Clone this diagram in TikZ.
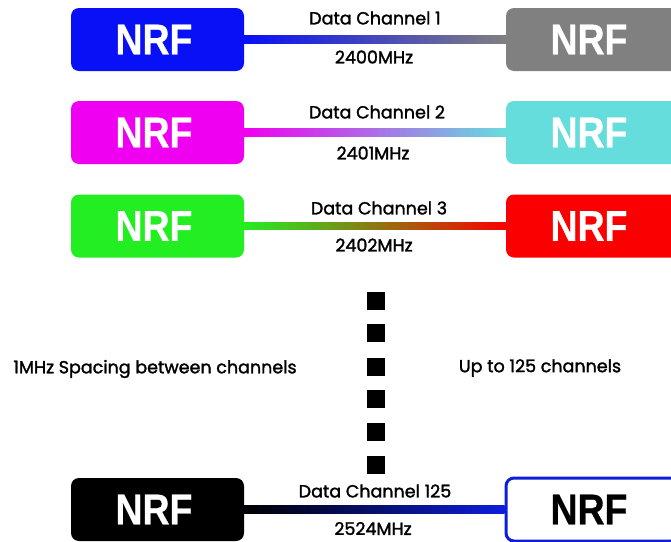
\documentclass[tikz,border=0pt]{standalone}
\usepackage{fontspec}
\setmainfont{Poppins}
\newfontfamily\lblfont[FakeBold=1.6]{Poppins}
\newfontfamily\nrffont[FakeStretch=0.87,FakeBold=0.6]{Liberation Sans}
\usetikzlibrary{calc}
\definecolor{cblue}{RGB}{8,16,245}
\definecolor{cgray}{RGB}{128,128,128}
\definecolor{cmag}{RGB}{240,0,240}
\definecolor{ccyan}{RGB}{102,221,221}
\definecolor{cgreen}{RGB}{34,238,34}
\definecolor{cred}{RGB}{250,0,0}
\definecolor{cborder}{RGB}{12,30,220}
\tikzset{
  nrfbox/.style={rectangle, rounded corners=8pt, minimum width=173pt, minimum height=63pt,
    inner sep=0pt, text=white, font=\nrffont\bfseries\fontsize{43}{43}\selectfont},
  lbl/.style={font=\lblfont\fontsize{17.5}{18}\selectfont, inner sep=0pt},
  dotsq/.style={fill=black, minimum size=18pt, inner sep=0pt},
}
\begin{document}
\begin{tikzpicture}[x=1pt,y=-1pt]
\clip (0,0) rectangle (671,541);
\fill[white] (0,0) rectangle (671,541);

% row 1
\node[nrfbox, fill=cblue] (l1) at (157.5,39.5) {\raisebox{-2pt}{NRF}\hspace*{7pt}};
\node[nrfbox, fill=cgray] (r1) at (592.5,39.5) {\raisebox{-2pt}{NRF}\hspace*{7pt}};
\shade[left color=cblue, right color=cgray] ($(l1.east)+(0,-3.8)$) rectangle ($(r1.west)+(0,3.8)$);
\node[lbl] (t1) at (375,18) {Data Channel 1};
\node[lbl] (f1) at (374,57) {2400MHz};

% row 2
\node[nrfbox, fill=cmag] (l2) at (157.5,132.5) {\raisebox{-2pt}{NRF}\hspace*{7pt}};
\node[nrfbox, fill=ccyan] (r2) at (592.5,132.5) {\raisebox{-2pt}{NRF}\hspace*{7pt}};
\shade[left color=cmag, right color=ccyan] ($(l2.east)+(0,-3.8)$) rectangle ($(r2.west)+(0,3.8)$);
\node[lbl] (t2) at (377,112) {Data Channel 2};
\node[lbl] (f2) at (373,153) {2401MHz};

% row 3
\node[nrfbox, fill=cgreen] (l3) at (157.5,226) {\raisebox{-2pt}{NRF}\hspace*{7pt}};
\node[nrfbox, fill=cred] (r3) at (592.5,226) {\raisebox{-2pt}{NRF}\hspace*{7pt}};
\shade[left color=cgreen, right color=cred] ($(l3.east)+(0,-3.8)$) rectangle ($(r3.west)+(0,3.8)$);
\node[lbl] (t3) at (379,208) {Data Channel 3};
\node[lbl] (f3) at (374,245) {2402MHz};

% dots
\foreach \i/\yy in {1/300.5,2/333,3/366.5,4/399,5/432,6/465}
  \node[dotsq] (d\i) at (376,\yy) {};

\node[lbl] (sp) at (155,369) {1MHz Spacing between channels};
\node[lbl] (up) at (540,368) {Up to 125 channels};

% row 4
\node[nrfbox, fill=black] (l4) at (157.5,509.5) {\raisebox{-2pt}{NRF}\hspace*{7pt}};
\node[nrfbox, fill=white, draw=cborder, line width=3pt, text=black] (r4) at (592.5,509.5) {\raisebox{-2pt}{NRF}\hspace*{7pt}};
\shade[left color=black, right color=cborder] ($(l4.east)+(0,-3.8)$) rectangle ($(r4.west)+(0,3.8)$);
\node[lbl] (t4) at (375,491) {Data Channel 125};
\node[lbl] (f4) at (373,528.5) {2524MHz};
\end{tikzpicture}
\end{document}
